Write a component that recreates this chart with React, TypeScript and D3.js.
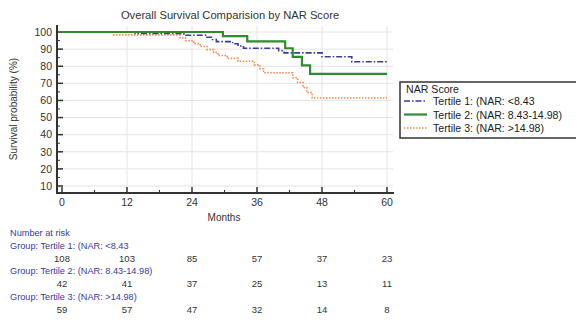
import React from "react";
import * as d3 from "d3";

const title = "Overall Survival Comparision by NAR Score";
const xTicks = [0, 12, 24, 36, 48, 60];
const yTicks = [10, 20, 30, 40, 50, 60, 70, 80, 90, 100];
const seriesNames = ["Tertile 1: (NAR: <8.43", "Tertile 2: (NAR: 8.43-14.98)", "Tertile 3: (NAR: >14.98)"];
const seriesColors = ["#3b3b98", "#2e8b2e", "#f28a4a"];

// Kaplan-Meier step points [month, survival %]
const tertile1: [number, number][] = [
  [0, 100], [13.5, 99.1], [22.5, 98.1], [26.5, 96.9], [27.8, 95.6], [28.5, 94.4],
  [31.5, 93.1], [32.5, 91.8], [33.5, 90.5], [40, 89.1], [41, 87.8], [48, 85.5],
  [53.5, 82.6], [60, 82.6],
];
const tertile2: [number, number][] = [
  [0, 100], [29.7, 97.6], [34.2, 94.5], [41.2, 90.5], [42.6, 85.5], [44.3, 80.5],
  [45.8, 75.5], [60, 75.5],
];
const tertile3: [number, number][] = [
  [0, 100], [9.5, 98.3], [21.8, 96.6], [22.8, 94.9], [24.3, 93.2], [25.5, 91.5],
  [26.8, 89.7], [28, 88.0], [28.8, 86.3], [30.5, 84.6], [32.5, 82.9], [35.5, 80.8],
  [36.5, 78.5], [37.2, 76.2], [42.6, 73.3], [43.5, 70.5], [44.5, 67.6], [45.2, 64.6],
  [46.2, 61.4], [60, 61.4],
];
const atRiskGroups = ["Group: Tertile 1: (NAR: <8.43", "Group: Tertile 2: (NAR: 8.43-14.98)", "Group: Tertile 3: (NAR: >14.98)"];
const atRisk1 = [108, 103, 85, 57, 37, 23];
const atRisk2 = [42, 41, 37, 25, 13, 11];
const atRisk3 = [59, 57, 47, 32, 14, 8];

const FONT = "'Liberation Sans', Arial, sans-serif";

export default function App() {
  const x = d3.scaleLinear().domain([0, 60]).range([62, 387]);
  const y = d3.scaleLinear().domain([10, 100]).range([186, 32]);
  const axisY = 193;
  const axisX = 57;
  const line = d3
    .line<[number, number]>()
    .x((d) => x(d[0]))
    .y((d) => y(d[1]))
    .curve(d3.curveStepAfter);

  const series = [tertile1, tertile2, tertile3];
  const dashes = ["6,2,1.5,2", "none", "1.5,1.5"];
  const widths = [1.6, 2.2, 1.6];
  const atRisk = [atRisk1, atRisk2, atRisk3];
  const minorX = d3.range(6, 60, 12);
  const minorY = d3.range(15, 100, 10);

  return (
    <svg width={576} height={320} style={{ position: "absolute", left: 0, top: 0 }} fontFamily={FONT}>
      <rect width={576} height={320} fill="#fff" />
      <text x={230} y={19} textAnchor="middle" fontSize={11.2} fill="#333">{title}</text>
      {/* grid */}
      {yTicks.map((t) => (
        <line key={"gy" + t} x1={axisX} x2={393} y1={y(t)} y2={y(t)} stroke="#e4e4e4" strokeWidth={1} />
      ))}
      {xTicks.slice(1).map((t) => (
        <line key={"gx" + t} x1={x(t)} x2={x(t)} y1={26} y2={axisY} stroke="#e4e4e4" strokeWidth={1} />
      ))}
      {/* axes */}
      <line x1={axisX} x2={axisX} y1={25} y2={axisY + 1} stroke="#333" strokeWidth={2} />
      <line x1={axisX - 1} x2={394} y1={axisY} y2={axisY} stroke="#333" strokeWidth={2} />
      {yTicks.map((t) => (
        <g key={"ty" + t}>
          <line x1={axisX} x2={axisX + 6} y1={y(t)} y2={y(t)} stroke="#333" strokeWidth={1.5} />
          <text x={52} y={y(t) + 3.8} textAnchor="end" fontSize={10.5} fill="#333">{t}</text>
        </g>
      ))}
      {minorY.map((t) => (
        <line key={"my" + t} x1={axisX} x2={axisX + 3} y1={y(t)} y2={y(t)} stroke="#333" strokeWidth={1} />
      ))}
      {xTicks.map((t) => (
        <g key={"tx" + t}>
          <line x1={x(t)} x2={x(t)} y1={axisY} y2={axisY - 6} stroke="#333" strokeWidth={1.5} />
          <text x={x(t)} y={axisY + 13} textAnchor="middle" fontSize={10.5} fill="#333">{t}</text>
        </g>
      ))}
      {minorX.map((t) => (
        <line key={"mx" + t} x1={x(t)} x2={x(t)} y1={axisY} y2={axisY - 3} stroke="#333" strokeWidth={1} />
      ))}
      <text x={224} y={221} textAnchor="middle" fontSize={10} fill="#333">Months</text>
      <text transform={`translate(17,${(y(100) + y(10)) / 2}) rotate(-90)`} textAnchor="middle" fontSize={10} fill="#333">
        Survival probability (%)
      </text>
      {/* curves */}
      {[2, 0, 1].map((i) => (
        <path key={"s" + i} d={line(series[i]) || ""} fill="none" stroke={seriesColors[i]} strokeWidth={widths[i]}
          strokeDasharray={dashes[i]} />
      ))}
      {/* legend */}
      <rect x={400} y={82} width={180} height={56} fill="#fff" stroke="#333" strokeWidth={1.5} />
      <text x={406} y={93} fontSize={10.6} fill="#222">NAR Score</text>
      {seriesNames.map((n, i) => (
        <g key={"lg" + i}>
          <line x1={404} x2={427} y1={101 + i * 13.5} y2={101 + i * 13.5} stroke={seriesColors[i]} strokeWidth={widths[i]}
            strokeDasharray={dashes[i]} />
          <text x={433} y={105 + i * 13.5} fontSize={10.6} fill="#222">{n}</text>
        </g>
      ))}
      {/* number at risk */}
      <text x={10} y={236} fontSize={9.2} fill="#3a3aa0">Number at risk</text>
      {atRiskGroups.map((g, i) => (
        <g key={"ar" + i}>
          <text x={10} y={248.5 + i * 25.8} fontSize={9.2} fill="#3a3aa0">{g}</text>
          {atRisk[i].map((v, j) => (
            <text key={j} x={x(xTicks[j])} y={261.5 + i * 25.8} textAnchor="middle" fontSize={9.5} fill="#333">{v}</text>
          ))}
        </g>
      ))}
    </svg>
  );
}
